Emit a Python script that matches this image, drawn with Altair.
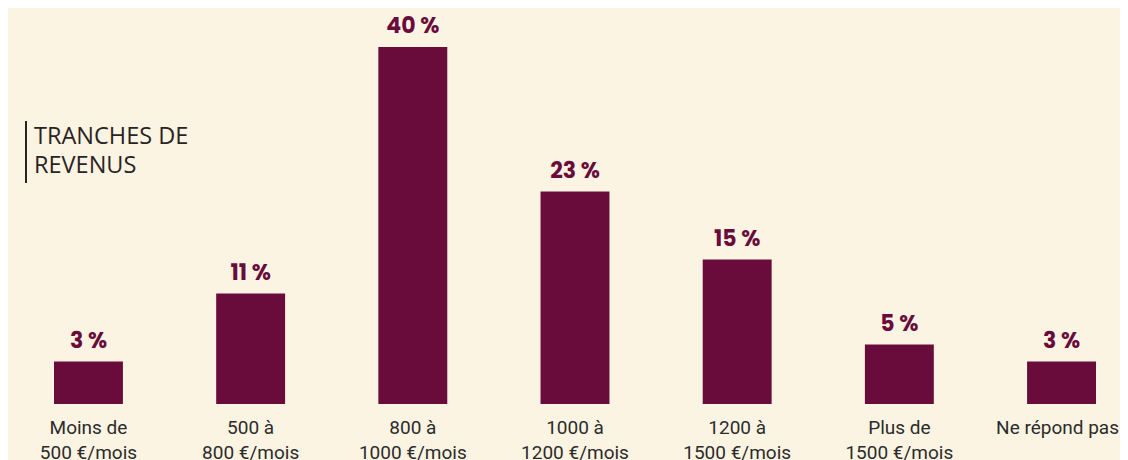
import altair as alt
import pandas as pd

categories = [
    "Moins de\n500 €/mois",
    "500 à\n800 €/mois",
    "800 à\n1000 €/mois",
    "1000 à\n1200 €/mois",
    "1200 à\n1500 €/mois",
    "Plus de\n1500 €/mois",
    "Ne répond pas",
]
values = [3, 11, 40, 23, 15, 5, 3]
title_text = "TRANCHES DE\nREVENUS"

BAR = "#690c3c"
BG = "#fcf4e3"

df = pd.DataFrame({"cat": categories, "v": values})

x = alt.X(
    "cat:N",
    sort=categories,
    scale=alt.Scale(paddingInner=0.575, paddingOuter=0.148),
    axis=alt.Axis(
        title=None,
        labelAngle=0,
        ticks=False,
        domain=False,
        labelPadding=14,
        labelFont="Roboto",
        labelFontSize=19,
        labelLineHeight=25,
        labelColor="#2b2b2b",
        labelBaseline="top",
        labelOffset={
            "condition": {"test": "datum.value === 'Ne répond pas'", "value": -4},
            "value": 0,
        },
        labelExpr="split(datum.label, '\\n')",
    ),
)
y = alt.Y(
    "v:Q",
    scale=alt.Scale(domain=[-2, 40], nice=False, zero=False),
    axis=None,
)

base = alt.Chart(df)
bars = base.mark_bar(color=BAR).encode(x=x, y=y, y2=alt.datum(-2))
labels = (
    base.transform_calculate(lbl="datum.v + ' %'")
    .mark_text(
        color=BAR,
        font="Poppins, Inter, Open Sans",
        fontWeight="bold",
        fontSize=22,
        baseline="bottom",
        dy=-9,
    )
    .encode(x=x, y=y, text="lbl:N")
)

title_df = pd.DataFrame({"t": [title_text]})
title = (
    alt.Chart(title_df)
    .mark_text(
        align="left",
        baseline="top",
        lineBreak="\n",
        font="Open Sans",
        fontSize=23.5,
        lineHeight=29,
        color="#2a2323",
    )
    .encode(x=alt.value(4), y=alt.value(78), text="t:N")
)
rule = (
    alt.Chart(title_df)
    .mark_rule(color="#2a2323", strokeWidth=2)
    .encode(x=alt.value(-4), y=alt.value(74), y2=alt.value(136))
)

chart = (
    alt.layer(bars, labels, rule, title)
    .properties(
        width=1090,
        height=357,
        background=BG,
        padding={"left": 22, "top": 39, "right": 0, "bottom": 56},
        autosize=alt.AutoSizeParams(type="none"),
    )
    .configure_view(strokeWidth=0)
)

chart.save("out.html", embed_options={"renderer": "svg", "actions": False})
